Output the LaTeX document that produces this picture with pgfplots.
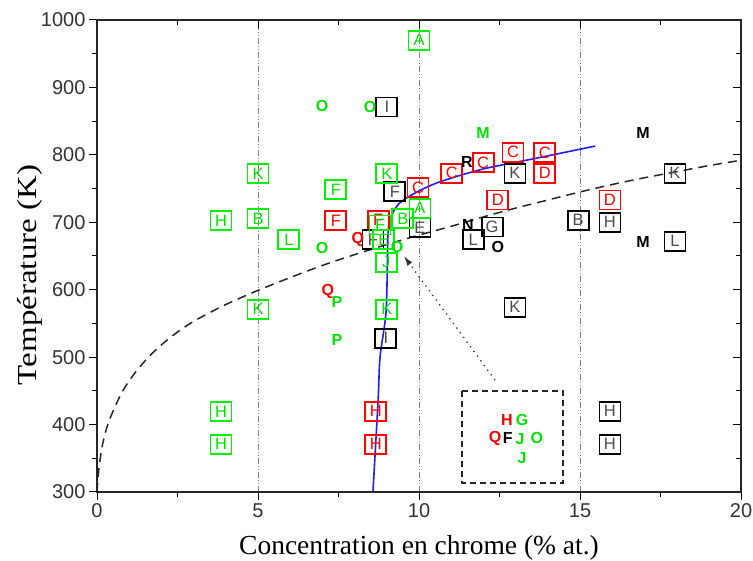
\documentclass[border=0pt]{standalone}
\usepackage{pgfplots}
\pgfplotsset{compat=1.18}
\usepackage{graphicx}
\usepackage{fontspec}
\setmainfont{Liberation Serif}
\newfontfamily\arial{Liberation Sans}
\usetikzlibrary{arrows.meta}
\definecolor{gr}{RGB}{0,225,0}
\definecolor{grbox}{RGB}{0,240,0}
\definecolor{rd}{RGB}{255,0,0}
\definecolor{bl}{RGB}{30,30,245}
\pgfplotsset{
  lett/.style={only marks, mark=*, mark size=0pt, mark options={draw=none,fill=none},
    point meta=explicit symbolic, nodes near coords,
    every node near coord/.append style={anchor=center, inner sep=0pt, font=\arial\fontsize{16.5}{16.5}\selectfont}},
  lettbox/.style 2 args={lett,
    every node near coord/.append style={draw=#1, text=#2, line width=1.9pt, minimum width=21pt, minimum height=19pt}},
  letttxt/.style={lett,
    every node near coord/.append style={text=#1, font=\arial\bfseries\fontsize{16}{16}\selectfont}},
}
\begin{document}
\begin{tikzpicture}
\begin{axis}[name=main, scale only axis, width=644pt, height=472pt,
  xmin=0, xmax=20, ymin=300, ymax=1000,
  xtick={0,5,10,15,20}, ytick={300,400,...,1000},
  minor x tick num=1, minor y tick num=1,
  tick pos=left, tick align=outside,
  major tick length=8pt, minor tick length=5pt,
  every tick/.style={black, line width=1pt},
  axis line style={black!85, line width=1.3pt},
  xmajorgrids=true,
  major grid style={gray, line width=0.8pt, dash pattern=on 6pt off 2pt on 1pt off 2pt on 1pt off 2pt},
  ticklabel style={font=\arial\fontsize{20}{20}\selectfont, text=black!80},
  /pgf/number format/assume math mode=true,
  /pgf/number format/1000 sep={},
  xlabel={Concentration en chrome (\% at.)},
  ylabel={\scalebox{1.2}[1]{Température (K)}},
  xlabel style={at={(axis description cs:0.5,-0.1186)}, anchor=center, font=\fontsize{27.5}{27.5}\selectfont},
  ylabel style={at={(axis description cs:-0.105,0.46)}, anchor=center, font=\fontsize{27.5}{27.5}\selectfont},
  clip=false,
]
% dashed solubility curve
\addplot[black!85, line width=1.5pt, dash pattern=on 9pt off 6pt, smooth] coordinates {
(0,300) (0.05,330) (0.15,365) (0.3,395) (0.5,420) (0.8,450) (1.2,478) (1.7,505) (2.3,530)
(3.0,553) (4.0,578) (5.0,599) (6.0,618) (7.0,636) (8.0,652) (9.0,667) (10.0,681) (11.0,694)
(12.0,708) (13.0,721) (14.0,733) (15.0,745) (16.0,756) (17.0,766) (18.0,775) (19.0,784) (20.0,792)};
% blue curve
\addplot[bl, line width=1.6pt, smooth] coordinates {
(8.57,300) (8.73,436) (8.79,500) (8.98,570) (9.04,684) (9.16,711) (9.41,729) (9.94,745)
(10.65,760) (11.99,779) (13.54,794) (15.47,813)};
% inset frame
\addplot[black!85, line width=1.5pt, dash pattern=on 6pt off 4pt] coordinates {
(11.34,450) (14.47,450) (14.47,313) (11.34,313) (11.34,450)};
% dotted arrow
\addplot[black!80, line width=1.3pt, dash pattern=on 1.3pt off 4.5pt, -{Latex[length=10pt,width=6pt]}] coordinates {
(12.36,466) (9.53,650)};
% red boxes
\addplot[lettbox={rd}{rd}] table[meta=l] {
x y l
7.42 702 F
8.73 703 F
9.97 751 C
11.02 773 C
11.99 788 C
12.92 804 C
13.91 803 C
13.91 773 D
12.45 733 D
15.93 733 D
8.66 420 H
8.66 371 H
};
% black boxes
\addplot[lettbox={black}{black!70}] table[meta=l] {
x y l
9.0 871 I
9.25 745 F
12.98 773 K
10.03 692 E
12.27 693 G
11.68 674 L
14.94 703 B
15.93 700 H
17.95 773 K
17.95 672 L
8.57 674 F
12.98 574 K
8.97 528 I
15.93 420 H
15.93 371 H
};
% green boxes
\addplot[lettbox={grbox}{gr}] table[meta=l] {
x y l
10.0 970 A
5.0 772 K
9.0 772 K
7.42 748 F
5.0 705 B
3.85 702 H
5.96 674 L
10.03 721 A
9.5 705 B
8.79 696 F
8.91 674 E
8.98 641 J
5.0 571 K
9.0 571 K
3.85 419 H
3.85 371 H
};
% black letters
\addplot[letttxt={black}] table[meta=l] {
x y l
11.49 789 R
11.52 696 N
12.45 663 O
16.96 832 M
16.96 671 M
12.76 380 F
};
% green letters
\addplot[letttxt={gr}] table[meta=l] {
x y l
11.99 832 M
6.99 872 O
8.48 871 O
6.99 662 O
9.32 663 O
7.45 582 P
7.45 525 P
13.2 407 G
13.14 378 J
13.66 380 O
13.2 350 J
};
% red letters
\addplot[letttxt={rd}] table[meta=l] {
x y l
7.17 597 Q
8.1 674 Q
12.73 407 H
12.36 380 Q
};
\end{axis}
\begin{axis}[scale only axis, width=644pt, height=472pt,
  xmin=0, xmax=20, ymin=300, ymax=1000,
  xtick={0,5,10,15,20}, ytick={300,400,...,1000},
  minor x tick num=1, minor y tick num=1,
  tick pos=right, tick align=inside,
  major tick length=8pt, minor tick length=5pt,
  every tick/.style={black, line width=1pt},
  axis line style={black!85, line width=1.3pt},
  xticklabels={}, yticklabels={},
]
\end{axis}
\pgfresetboundingbox
\path ([shift={(-97pt,-69pt)}]main.south west) rectangle ([shift={(12pt,20pt)}]main.north east);
\end{tikzpicture}
\end{document}
